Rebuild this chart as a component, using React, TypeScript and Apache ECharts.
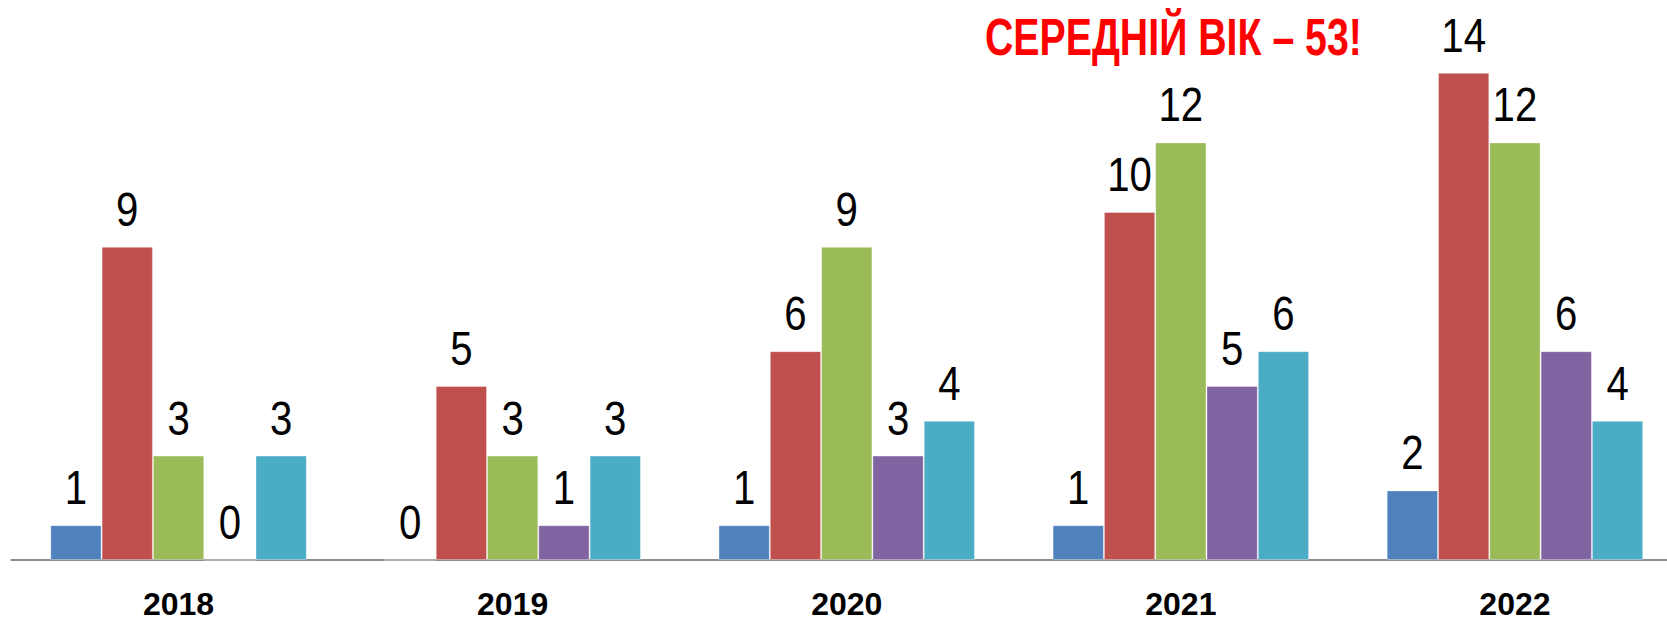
import React, { useEffect, useRef } from "react";
import * as echarts from "echarts";

const years = ["2018", "2019", "2020", "2021", "2022"];
const seriesNames = ["Серія 1", "Серія 2", "Серія 3", "Серія 4", "Серія 5"];
const s1 = [1, 0, 1, 1, 2];
const s2 = [9, 5, 6, 10, 14];
const s3 = [3, 3, 9, 12, 12];
const s4 = [0, 1, 3, 5, 6];
const s5 = [3, 3, 4, 6, 4];
const colors = ["#4F81BD", "#C0504D", "#9BBB59", "#8064A2", "#4BACC6"];
const titleText = "СЕРЕДНІЙ ВІК – 53!";

const FONT = '"Liberation Sans", Arial, sans-serif';
const BAR_W = 51.3;

export default function App() {
  const ref = useRef<HTMLDivElement>(null);
  useEffect(() => {
    const chart = echarts.init(ref.current!, null, { renderer: "svg" });
    const all = [s1, s2, s3, s4, s5];
    const labelData: number[][] = [];
    all.forEach((d, s) => d.forEach((v, c) => labelData.push([c, v, s])));
    const n = all.length;
    chart.setOption({
      animation: false,
      grid: { left: 11.5, right: 0, top: 3.2, bottom: 61, containLabel: false },
      xAxis: {
        type: "category",
        data: years,
        axisLine: { show: true, lineStyle: { color: "#8C8C8C", width: 2 } },
        axisTick: { show: false },
        axisLabel: {
          color: "#000",
          fontWeight: "bold",
          fontSize: 32,
          fontFamily: FONT,
          margin: 28,
        },
      },
      yAxis: { type: "value", min: 0, max: 16, show: false, splitLine: { show: false } },
      graphic: [
        {
          type: "text",
          x: 985,
          y: 37.3,
          scaleX: 0.77,
          style: {
            text: titleText,
            fill: "#FF0000",
            font: `bold 51px ${FONT}`,
            textAlign: "left",
            textVerticalAlign: "middle",
          },
        },
      ],
      series: [
        ...all.map((d, i) => ({
          type: "bar",
          name: seriesNames[i],
          data: d,
          barWidth: BAR_W,
          barGap: "0%",
          itemStyle: { color: colors[i], borderColor: "rgba(255,255,255,0.35)", borderWidth: 1 },
        })),
        {
          type: "custom",
          name: "labels",
          data: labelData,
          silent: true,
          z: 10,
          renderItem: (params: any, api: any) => {
            const c = api.value(0);
            const v = api.value(1);
            const s = api.value(2);
            const p = api.coord([c, v]);
            return {
              type: "text",
              x: p[0] + (s - (n - 1) / 2) * BAR_W,
              y: p[1] - 14,
              scaleX: 0.82,
              style: {
                text: String(v),
                fill: "#000",
                font: `49px ${FONT}`,
                textAlign: "center",
                textVerticalAlign: "bottom",
              },
            };
          },
        },
      ],
    });
    return () => chart.dispose();
  }, []);
  return (
    <div
      style={{
        position: "absolute",
        left: 0,
        top: 0,
        width: 1667,
        height: 621,
        overflow: "hidden",
      }}
    >
      <div ref={ref} style={{ width: 1682, height: 621 }} />
    </div>
  );
}
